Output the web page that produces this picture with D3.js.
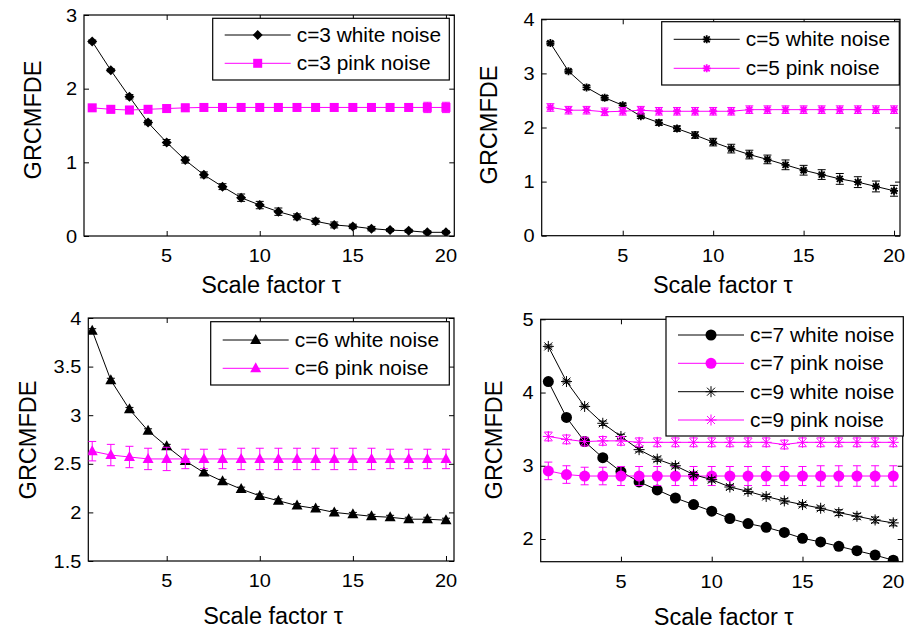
<!DOCTYPE html>
<html><head><meta charset="utf-8">
<script src="https://cdn.jsdelivr.net/npm/d3@7"></script>
<style>body{margin:0;background:#fff}svg{display:block;font-family:"Liberation Sans",Arial,sans-serif}</style>
</head><body>
<svg id="c" width="913" height="629"></svg>
<script>
const tau = [1,2,3,4,5,6,7,8,9,10,11,12,13,14,15,16,17,18,19,20];
const xTickValues = [5,10,15,20];

// Panel 1 (c=3)
const c3White    = [2.64,2.25,1.89,1.54,1.27,1.03,0.83,0.67,0.52,0.42,0.33,0.26,0.20,0.15,0.13,0.10,0.08,0.07,0.05,0.05];
const c3WhiteErr = [0.02,0.02,0.03,0.03,0.04,0.04,0.04,0.04,0.05,0.05,0.05,0.04,0.04,0.04,0.03,0.03,0.02,0.02,0.02,0.02];
const c3Pink     = [1.74,1.72,1.71,1.72,1.73,1.74,1.745,1.745,1.745,1.745,1.745,1.745,1.745,1.745,1.745,1.745,1.745,1.745,1.745,1.745];
const c3PinkErr  = [0.04,0.05,0.05,0.05,0.05,0.05,0.05,0.05,0.05,0.05,0.05,0.05,0.05,0.05,0.05,0.05,0.05,0.05,0.07,0.07];
const yTicks1 = [0,1,2,3];

// Panel 2 (c=5)
const c5White    = [3.56,3.04,2.74,2.55,2.41,2.21,2.09,1.98,1.86,1.73,1.61,1.50,1.41,1.31,1.21,1.13,1.05,0.99,0.91,0.83];
const c5WhiteErr = [0.03,0.03,0.04,0.04,0.04,0.04,0.05,0.05,0.06,0.07,0.08,0.08,0.08,0.09,0.09,0.09,0.10,0.10,0.10,0.10];
const c5Pink     = [2.37,2.32,2.32,2.29,2.30,2.32,2.30,2.30,2.30,2.30,2.30,2.33,2.33,2.33,2.33,2.33,2.33,2.33,2.33,2.33];
const c5PinkErr  = [0.07,0.07,0.07,0.07,0.07,0.07,0.07,0.07,0.07,0.07,0.07,0.07,0.07,0.07,0.07,0.07,0.07,0.07,0.07,0.07];
const yTicks2 = [0,1,2,3,4];

// Panel 3 (c=6)
const c6White    = [3.87,3.36,3.06,2.84,2.68,2.53,2.41,2.32,2.24,2.17,2.12,2.07,2.04,2.00,1.98,1.96,1.95,1.93,1.93,1.92];
const c6WhiteErr = [0.02,0.02,0.02,0.02,0.02,0.02,0.02,0.02,0.02,0.02,0.02,0.02,0.02,0.02,0.02,0.02,0.02,0.02,0.02,0.02];
const c6Pink     = [2.63,2.59,2.57,2.55,2.55,2.55,2.55,2.55,2.55,2.55,2.55,2.55,2.55,2.55,2.55,2.55,2.55,2.55,2.55,2.55];
const c6PinkErr  = [0.10,0.11,0.11,0.11,0.12,0.10,0.10,0.10,0.11,0.11,0.11,0.11,0.11,0.11,0.11,0.11,0.10,0.10,0.10,0.10];
const yTicks3 = [1.5,2,2.5,3,3.5,4];

// Panel 4 (c=7, c=9)
const c7White    = [4.15,3.66,3.33,3.11,2.92,2.78,2.67,2.56,2.47,2.38,2.28,2.21,2.16,2.09,2.01,1.96,1.90,1.84,1.78,1.71];
const c7WhiteErr = [0.02,0.02,0.02,0.02,0.03,0.03,0.03,0.03,0.03,0.03,0.03,0.03,0.03,0.03,0.04,0.04,0.04,0.05,0.05,0.05];
const c7Pink     = [2.93,2.88,2.86,2.86,2.86,2.86,2.86,2.86,2.86,2.86,2.86,2.86,2.86,2.86,2.86,2.86,2.86,2.86,2.86,2.86];
const c7PinkErr  = [0.12,0.12,0.12,0.12,0.13,0.13,0.13,0.13,0.13,0.13,0.13,0.13,0.13,0.13,0.13,0.14,0.14,0.14,0.14,0.14];
const c9White    = [4.63,4.15,3.81,3.58,3.40,3.22,3.09,3.00,2.88,2.81,2.71,2.65,2.58,2.52,2.47,2.42,2.36,2.31,2.26,2.22];
const c9WhiteErr = [0.02,0.02,0.02,0.03,0.03,0.03,0.03,0.03,0.03,0.03,0.03,0.03,0.03,0.03,0.03,0.03,0.04,0.04,0.04,0.04];
const c9Pink     = [3.40,3.36,3.33,3.34,3.34,3.32,3.32,3.32,3.32,3.32,3.32,3.32,3.32,3.29,3.32,3.32,3.32,3.32,3.32,3.32];
const c9PinkErr  = [0.06,0.06,0.06,0.06,0.06,0.06,0.06,0.06,0.06,0.06,0.06,0.06,0.06,0.06,0.06,0.06,0.06,0.06,0.06,0.06];
const yTicks4 = [2,3,4,5];

const MAG = "#ff00ff", BLK = "#000000";
const svg = d3.select("#c");

function marker(g, type, color, x, y) {
  if (type === "diamond") {
    g.append("path").attr("d", `M${x},${y-5}L${x+5},${y}L${x},${y+5}L${x-5},${y}Z`).attr("fill", color);
  } else if (type === "square") {
    g.append("rect").attr("x", x-4.5).attr("y", y-4.5).attr("width", 9).attr("height", 9).attr("fill", color);
  } else if (type === "triangle") {
    g.append("path").attr("d", `M${x},${y-6}L${x+5.5},${y+4}L${x-5.5},${y+4}Z`).attr("fill", color);
  } else if (type === "circle") {
    g.append("circle").attr("cx", x).attr("cy", y).attr("r", 5.5).attr("fill", color);
  } else if (type === "star") {
    const r = 4, d = 3;
    g.append("path").attr("d", `M${x-r},${y}L${x+r},${y}M${x},${y-r}L${x},${y+r}M${x-d},${y-d}L${x+d},${y+d}M${x-d},${y+d}L${x+d},${y-d}`)
      .attr("stroke", color).attr("stroke-width", 1.8).attr("fill", "none");
  } else if (type === "asterisk") {
    const r = 5.5, d = 4;
    g.append("path").attr("d", `M${x},${y-r}L${x},${y+r}M${x-d},${y-d}L${x+d},${y+d}M${x-d},${y+d}L${x+d},${y-d}M${x-r},${y}L${x+r},${y}`)
      .attr("stroke", color).attr("stroke-width", 1).attr("fill", "none");
  }
}

// horizontally stretched text (reference glyphs are slightly wide)
function stext(g, x, y, size, anchor, str, sx) {
  return g.append("text").attr("transform", `translate(${x},${y}) scale(${sx},1)`)
    .attr("text-anchor", anchor).attr("font-size", size).text(str);
}

function panel(cfg) {
  const x = d3.scaleLinear().domain(cfg.xd).range([cfg.left, cfg.right]);
  const y = d3.scaleLinear().domain(cfg.yd).range([cfg.bottom, cfg.top]);
  const g = svg.append("g");
  const clip = "clip" + cfg.id;
  svg.append("clipPath").attr("id", clip).append("rect")
    .attr("x", cfg.left).attr("y", cfg.top).attr("width", cfg.right - cfg.left).attr("height", cfg.bottom - cfg.top);

  const axB = d3.axisBottom(x).tickValues(xTickValues).tickSize(-5).tickFormat("");
  const axT = d3.axisTop(x).tickValues(xTickValues).tickSize(-5).tickFormat("");
  const axL = d3.axisLeft(y).tickValues(cfg.yTicks).tickSize(-5).tickFormat("");
  const axR = d3.axisRight(y).tickValues(cfg.yTicks).tickSize(-5).tickFormat("");
  [[axB, `translate(0,${cfg.bottom})`], [axT, `translate(0,${cfg.top})`], [axL, `translate(${cfg.left},0)`], [axR, `translate(${cfg.right},0)`]]
    .forEach(([ax, tr]) => {
      const a = g.append("g").attr("transform", tr).call(ax);
      a.select(".domain").remove();
      a.selectAll("line").attr("stroke", "#000").attr("stroke-width", 1);
    });
  g.append("rect").attr("x", cfg.left).attr("y", cfg.top).attr("width", cfg.right - cfg.left).attr("height", cfg.bottom - cfg.top)
    .attr("fill", "none").attr("stroke", "#000").attr("stroke-width", 1.2);

  xTickValues.forEach(d => stext(g, x(d), cfg.bottom + 26, 18.5, "middle", d, 1.08));
  cfg.yTicks.forEach(d => stext(g, cfg.left - 7, y(d) + 6.5, 18.5, "end", d, 1.08));

  g.append("text").attr("x", (cfg.left + cfg.right) / 2 + 2).attr("y", cfg.bottom + cfg.xtOff)
    .attr("text-anchor", "middle").attr("font-size", 23.5).text("Scale factor \u03C4");
  g.append("text").attr("transform", `translate(${cfg.ylx},${cfg.yly}) rotate(-90)`)
    .attr("text-anchor", "middle").attr("font-size", 23.5).text("GRCMFDE");

  const data = g.append("g").attr("clip-path", `url(#${clip})`);
  cfg.series.forEach(s => {
    const pts = tau.map((t, i) => ({t, v: s.values[i], e: s.err[i]}));
    const eb = data.append("g").attr("stroke", s.color).attr("stroke-width", 1);
    pts.forEach(p => {
      const px = x(p.t), y0 = y(p.v - p.e), y1 = y(p.v + p.e);
      eb.append("path").attr("d", `M${px},${y0}L${px},${y1}M${px-4},${y0}L${px+4},${y0}M${px-4},${y1}L${px+4},${y1}`).attr("fill", "none");
    });
    data.append("path").datum(pts)
      .attr("d", d3.line().x(p => x(p.t)).y(p => y(p.v)))
      .attr("fill", "none").attr("stroke", s.color).attr("stroke-width", 1);
    const mg = data.append("g");
    pts.forEach(p => marker(mg, s.marker, s.color, x(p.t), y(p.v)));
  });

  const L = cfg.legend;
  const lg = svg.append("g");
  lg.append("rect").attr("x", L.x0).attr("y", L.y0).attr("width", L.x1 - L.x0).attr("height", L.y1 - L.y0)
    .attr("fill", "#fff").attr("stroke", "#000").attr("stroke-width", 1.2);
  cfg.series.forEach((s, i) => {
    const ry = L.rows[i];
    lg.append("line").attr("x1", L.x0 + 12).attr("x2", L.x0 + 78).attr("y1", ry).attr("y2", ry)
      .attr("stroke", s.color).attr("stroke-width", 1);
    marker(lg, s.marker, s.color, L.x0 + 45, ry);
    stext(lg, L.x0 + 84, ry + 7, 19.5, "start", s.name, 1.07);
  });
}

panel({id: 1, left: 84, right: 454.3, top: 15, bottom: 236, xd: [0.56, 20.45], yd: [0, 3], yTicks: yTicks1,
  xtOff: 57, ylx: 40.5, yly: 120,
  series: [
    {name: "c=3 white noise", values: c3White, err: c3WhiteErr, color: BLK, marker: "diamond"},
    {name: "c=3 pink noise", values: c3Pink, err: c3PinkErr, color: MAG, marker: "square"}
  ],
  legend: {x0: 212.7, x1: 449.3, y0: 18.3, y1: 80, rows: [35, 63.3]}
});
panel({id: 2, left: 541.7, right: 900, top: 19.3, bottom: 235.7, xd: [0.52, 20.33], yd: [0, 4], yTicks: yTicks2,
  xtOff: 57, ylx: 497, yly: 125,
  series: [
    {name: "c=5 white noise", values: c5White, err: c5WhiteErr, color: BLK, marker: "star"},
    {name: "c=5 pink noise", values: c5Pink, err: c5PinkErr, color: MAG, marker: "star"}
  ],
  legend: {x0: 661.7, x1: 899.3, y0: 21.7, y1: 85, rows: [39.3, 68.3]}
});
panel({id: 3, left: 88.3, right: 454, top: 318, bottom: 561, xd: [0.79, 20.43], yd: [1.5, 4], yTicks: yTicks3,
  xtOff: 63, ylx: 36, yly: 440,
  series: [
    {name: "c=6 white noise", values: c6White, err: c6WhiteErr, color: BLK, marker: "triangle"},
    {name: "c=6 pink noise", values: c6Pink, err: c6PinkErr, color: MAG, marker: "triangle"}
  ],
  legend: {x0: 210.7, x1: 449.3, y0: 321.7, y1: 385, rows: [340, 368.3]}
});
panel({id: 4, left: 540.7, right: 902.7, top: 319.3, bottom: 561.7, xd: [0.58, 20.52], yd: [1.69, 5], yTicks: yTicks4,
  xtOff: 63, ylx: 502, yly: 440,
  series: [
    {name: "c=7 white noise", values: c7White, err: c7WhiteErr, color: BLK, marker: "circle"},
    {name: "c=7 pink noise", values: c7Pink, err: c7PinkErr, color: MAG, marker: "circle"},
    {name: "c=9 white noise", values: c9White, err: c9WhiteErr, color: BLK, marker: "asterisk"},
    {name: "c=9 pink noise", values: c9Pink, err: c9PinkErr, color: MAG, marker: "asterisk"}
  ],
  legend: {x0: 666, x1: 903.3, y0: 316.7, y1: 436, rows: [335, 363.3, 391.7, 420]}
});
</script>
</body></html>
